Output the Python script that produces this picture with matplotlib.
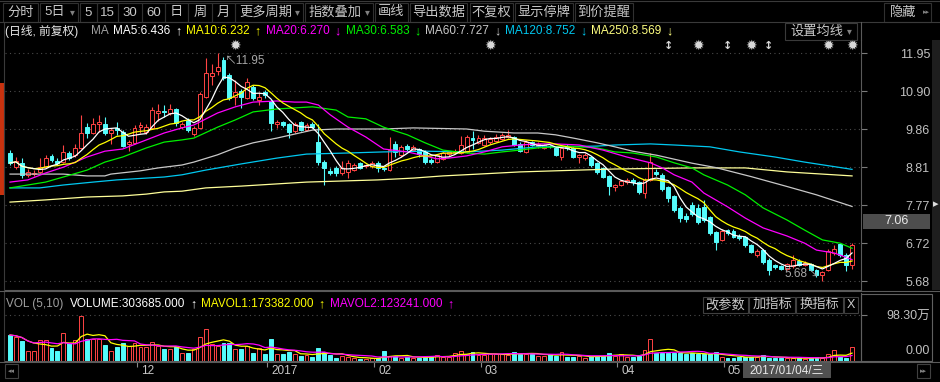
import numpy as np
import pandas as pd
import matplotlib
matplotlib.use('Agg')
import matplotlib.pyplot as plt
from matplotlib.patches import Rectangle
from matplotlib.lines import Line2D
import matplotlib.transforms as mtransforms

plt.rcParams['font.family'] = ['Liberation Sans', 'Noto Sans CJK SC', 'DejaVu Sans']

# daily candles, 2016-11 .. 2017-05
opens = [9.20, 8.81, 8.93, 8.60, 8.62, 8.68, 8.81, 9.12, 8.98, 8.95, 9.20, 9.14, 9.34, 9.91, 9.75,
         10.00, 10.00, 9.75, 9.90, 9.78, 9.45, 9.48, 9.91, 9.78, 9.89, 10.30, 10.36, 10.30, 10.41, 9.91,
         10.11, 9.72, 9.89, 10.74, 11.32, 11.45, 11.76, 11.35, 10.74, 10.90, 10.71, 11.02, 10.66, 10.88, 10.63,
         10.00, 10.05, 10.00, 9.80, 10.05, 9.83, 9.99, 9.50, 8.95, 8.71, 8.79, 8.65, 8.68, 8.73, 8.93,
         8.84, 8.84, 8.93, 8.78, 8.73, 9.45, 9.14, 9.40, 9.28, 9.32, 9.23, 9.01, 8.95, 9.04, 9.18,
         9.22, 9.20, 9.23, 9.62, 9.48, 9.42, 9.50, 9.53, 9.59, 9.64, 9.64, 9.45, 9.23, 9.50, 9.40,
         9.34, 9.40, 9.34, 9.09, 9.40, 9.34, 9.09, 9.06, 9.09, 8.93, 8.79, 8.57, 8.27, 8.32, 8.40,
         8.46, 8.40, 8.10, 8.46, 8.68, 8.60, 8.26, 8.02, 7.69, 7.47, 7.77, 7.69, 7.72, 7.44, 7.03,
         6.81, 7.08, 7.06, 6.92, 6.89, 6.67, 6.40, 6.53, 6.26, 6.12, 6.10, 6.01, 6.10, 6.23, 6.12,
         6.15, 5.98, 5.85, 5.98, 6.45, 6.70, 6.40, 6.12]
highs = [9.28, 9.10, 9.06, 8.75, 8.72, 9.06, 9.15, 9.18, 9.06, 9.42, 9.25, 9.45, 10.25, 10.02, 10.16,
         10.25, 10.18, 9.88, 10.05, 9.83, 9.55, 9.97, 10.05, 10.01, 10.47, 10.55, 10.52, 10.54, 10.45, 10.05,
         10.15, 9.95, 10.88, 11.81, 11.65, 11.95, 11.85, 11.40, 11.20, 10.95, 11.25, 11.08, 10.88, 10.93, 10.66,
         10.10, 10.08, 10.03, 10.05, 10.08, 10.02, 10.04, 10.00, 9.00, 8.78, 8.84, 8.98, 9.01, 8.92, 8.96,
         8.90, 8.98, 8.97, 8.82, 9.64, 9.52, 9.42, 9.45, 9.42, 9.35, 9.28, 9.05, 9.18, 9.25, 9.26,
         9.30, 9.67, 9.70, 9.80, 9.70, 9.70, 9.64, 9.72, 9.75, 9.83, 9.68, 9.50, 9.56, 9.53, 9.49,
         9.45, 9.43, 9.38, 9.36, 9.44, 9.37, 9.18, 9.20, 9.12, 8.96, 8.82, 8.60, 8.36, 8.46, 8.52,
         8.50, 8.44, 8.52, 9.20, 8.75, 8.65, 8.30, 8.05, 7.75, 7.55, 7.85, 7.80, 7.90, 7.48, 7.06,
         7.10, 7.12, 7.10, 6.96, 6.92, 6.70, 6.55, 6.56, 6.30, 6.15, 6.13, 6.18, 6.40, 6.28, 6.22,
         6.18, 6.00, 5.95, 6.55, 6.67, 6.72, 6.45, 6.72]
lows = [8.87, 8.76, 8.51, 8.55, 8.56, 8.64, 8.78, 8.95, 8.88, 8.92, 9.02, 9.10, 9.30, 9.62, 9.72,
        9.78, 9.70, 9.45, 9.70, 9.36, 9.25, 9.45, 9.75, 9.72, 9.85, 10.08, 10.20, 10.25, 9.95, 9.85,
        9.78, 9.68, 9.85, 10.70, 11.08, 11.35, 11.20, 10.65, 10.52, 10.45, 10.68, 10.66, 10.52, 10.70, 9.80,
        9.88, 9.92, 9.62, 9.76, 9.80, 9.80, 9.88, 8.87, 8.32, 8.60, 8.58, 8.60, 8.51, 8.70, 8.75,
        8.80, 8.80, 8.68, 8.70, 8.70, 9.10, 9.10, 9.25, 9.25, 9.10, 8.90, 8.90, 8.92, 9.00, 9.12,
        9.18, 9.18, 9.20, 9.30, 9.45, 9.38, 9.45, 9.50, 9.55, 9.60, 9.38, 9.23, 9.20, 9.38, 9.35,
        9.30, 9.33, 9.12, 9.00, 9.28, 9.05, 8.92, 9.02, 8.82, 8.62, 8.50, 8.05, 8.15, 8.28, 8.36,
        8.32, 8.08, 7.95, 8.43, 8.58, 8.15, 7.85, 7.58, 7.30, 7.30, 7.48, 7.25, 7.30, 6.95, 6.53,
        6.78, 6.95, 6.85, 6.82, 6.62, 6.45, 6.35, 6.15, 5.85, 6.02, 5.98, 5.98, 6.05, 6.08, 6.08,
        5.95, 5.78, 5.68, 5.95, 6.40, 6.35, 5.95, 6.00]
closes = [8.93, 8.98, 8.60, 8.68, 8.66, 8.81, 9.06, 9.01, 8.93, 9.23, 9.06, 9.34, 9.75, 9.75, 10.00,
          10.05, 9.75, 9.83, 9.82, 9.40, 9.50, 9.89, 9.97, 9.91, 10.38, 10.35, 10.33, 10.41, 10.03, 10.00,
          9.83, 9.89, 10.82, 11.40, 11.40, 11.56, 11.26, 10.71, 10.88, 10.74, 11.15, 10.71, 10.74, 10.80, 10.03,
          10.05, 9.97, 9.78, 10.00, 9.83, 9.97, 9.92, 8.95, 8.79, 8.65, 8.65, 8.79, 8.93, 8.87, 8.79,
          8.87, 8.93, 8.79, 8.76, 9.28, 9.23, 9.37, 9.32, 9.37, 9.18, 8.95, 8.95, 9.14, 9.20, 9.23,
          9.26, 9.42, 9.64, 9.55, 9.61, 9.61, 9.59, 9.64, 9.70, 9.70, 9.42, 9.26, 9.50, 9.42, 9.45,
          9.42, 9.38, 9.15, 9.34, 9.33, 9.09, 9.15, 9.15, 8.87, 8.68, 8.54, 8.29, 8.32, 8.43, 8.46,
          8.40, 8.13, 8.46, 8.95, 8.62, 8.21, 7.96, 7.63, 7.41, 7.38, 7.52, 7.30, 7.35, 7.00, 6.75,
          7.06, 7.00, 6.89, 6.86, 6.67, 6.48, 6.51, 6.20, 5.98, 6.06, 6.01, 6.15, 6.26, 6.12, 6.18,
          5.98, 5.85, 5.92, 6.51, 6.56, 6.40, 6.12, 6.67]
# volume in 万
volumes = [55.6, 52, 43, 21, 21, 45, 45, 27, 22, 60, 38, 45, 96, 48, 46, 46, 34, 21, 30, 38,
           32, 38, 30, 30, 41, 32, 25, 25, 30, 18, 18, 25, 52, 68, 36, 32, 38, 38, 25, 25,
           32, 18, 27, 16, 46, 15, 15, 20, 16, 11, 13, 9, 27, 20, 13, 6, 11, 9, 7, 4,
           4, 6, 6, 21, 11, 11, 7, 9, 7, 7, 9, 9, 13, 9, 9, 18, 21, 15, 20, 13,
           13, 16, 14, 14, 13, 20, 16, 16, 16, 11, 11, 14, 11, 19, 9, 9, 11, 6, 11, 11,
           11, 18, 11, 15, 9, 9, 11, 24, 47, 18, 18, 18, 18, 18, 14, 18, 14, 14, 14, 20,
           9, 7, 7, 9, 9, 9, 9, 13, 7, 6, 6, 6, 7, 7, 4, 6, 9, 7, 14, 24,
           9, 7, 30.4]

# long moving averages (candle index, price)
ma20_idx = [0, 3, 6, 9, 13, 16, 19, 23, 26, 29, 31, 35, 38, 41, 45, 48, 50, 52, 54, 57, 60, 63, 67, 70,
            72, 74, 77, 80, 83, 86, 89, 92, 96, 100, 104, 108, 110, 112, 115, 117, 121, 124, 127, 131,
            134, 136, 139, 142]
ma20_val = [8.40, 8.46, 8.65, 8.81, 9.09, 9.25, 9.31, 9.56, 9.75, 9.89, 9.97, 10.30, 10.47, 10.60, 10.63,
            10.60, 10.60, 10.52, 10.25, 9.91, 9.64, 9.31, 9.23, 9.12, 9.04, 9.06, 9.12, 9.23, 9.37, 9.42,
            9.45, 9.45, 9.42, 9.28, 9.09, 8.93, 8.79, 8.60, 8.40, 8.10, 7.72, 7.41, 7.14, 6.92, 6.72,
            6.53, 6.45, 6.27]
ma30_idx = [0, 3, 6, 9, 13, 16, 19, 23, 26, 29, 31, 35, 38, 41, 45, 48, 51, 55, 57, 60, 63, 67, 70, 73,
            77, 80, 83, 86, 89, 94, 99, 102, 105, 109, 112, 115, 117, 121, 124, 127, 131, 134, 137, 140, 142]
ma30_val = [8.24, 8.32, 8.40, 8.54, 8.73, 8.95, 9.09, 9.34, 9.50, 9.56, 9.61, 9.91, 10.11, 10.33, 10.41,
            10.44, 10.47, 10.38, 10.19, 10.14, 9.91, 9.70, 9.48, 9.28, 9.20, 9.17, 9.23, 9.28, 9.34, 9.39,
            9.34, 9.23, 9.20, 9.09, 8.93, 8.79, 8.60, 8.32, 8.05, 7.69, 7.36, 7.08, 6.81, 6.72, 6.58]
ma60_idx = [0, 9, 13, 16, 17, 22, 25, 29, 31, 35, 38, 41, 45, 48, 51, 55, 63, 68, 77, 80, 85, 89, 92, 95,
            99, 102, 105, 109, 112, 115, 119, 125, 131, 136, 142]
ma60_val = [8.62, 8.62, 8.57, 8.57, 8.62, 8.71, 8.79, 8.87, 8.95, 9.15, 9.34, 9.48, 9.61, 9.72, 9.83,
            9.86, 9.86, 9.89, 9.86, 9.80, 9.75, 9.75, 9.70, 9.61, 9.48, 9.37, 9.25, 9.14, 9.03, 8.92,
            8.80, 8.55, 8.28, 8.05, 7.73]
ma120_idx = [0, 5, 9, 14, 18, 23, 26, 29, 33, 39, 45, 50, 57, 63, 70, 77, 83, 89, 92, 99, 102, 108, 112,
             118, 123, 129, 134, 142]
ma120_val = [8.24, 8.24, 8.32, 8.40, 8.46, 8.51, 8.54, 8.60, 8.73, 8.90, 9.06, 9.17, 9.20, 9.23, 9.25,
             9.23, 9.28, 9.37, 9.37, 9.39, 9.42, 9.45, 9.42, 9.37, 9.23, 9.09, 8.95, 8.75]
ma250_idx = [0, 6, 13, 19, 23, 26, 29, 33, 39, 45, 50, 56, 62, 68, 73, 79, 86, 96, 102, 115, 124, 131, 142]
ma250_val = [7.85, 7.91, 7.99, 8.02, 8.07, 8.13, 8.15, 8.24, 8.29, 8.35, 8.40, 8.43, 8.46, 8.51, 8.57,
             8.62, 8.68, 8.73, 8.76, 8.79, 8.79, 8.68, 8.57]

price_ticks = [11.95, 10.90, 9.86, 8.81, 7.77, 6.72, 5.68]
vol_top_tick = 98.30
month_starts = [22, 44, 62, 80, 103, 121]
month_labels = ['12', '2017', '02', '03', '04', '05']
star_marks = [38, 81, 116, 125, 138, 142]
updown_marks = [111, 121, 128]

ma_legend = [('MA5:6.436', '↑', '#ffffff'), ('MA10:6.232', '↑', '#ffff00'),
             ('MA20:6.270', '↓', '#ff00ff'), ('MA30:6.583', '↓', '#00f000'),
             ('MA60:7.727', '↓', '#c8c8c8'), ('MA120:8.752', '↓', '#00c8f0'),
             ('MA250:8.569', '↓', '#ffff80')]
vol_legend = [('VOLUME:303685.000', '↑', '#ffffff'), ('MAVOL1:173382.000', '↑', '#ffff00'),
              ('MAVOL2:123241.000', '↑', '#ff00ff')]

UP = '#ff4444'
DOWN = '#54fcfc'
W, H = 940, 382
X0, DX = 10, 5.93      # pixel of first candle, pixel step
XL, XR = 5, 861

fig = plt.figure(figsize=(W / 100, H / 100), dpi=100, facecolor='black')


def rect(x0, y0, x1, y1):
    return [x0 / W, 1 - y1 / H, (x1 - x0) / W, (y1 - y0) / H]


def ftext(x, y, s, **kw):
    kw.setdefault('va', 'center')
    kw.setdefault('color', '#c8c8c8')
    kw.setdefault('fontsize', 8.5)
    return fig.text(x / W, 1 - y / H, s, **kw)


def fline(x0, y0, x1, y1, color='#3a3a3a', lw=0.8):
    fig.add_artist(Line2D([x0 / W, x1 / W], [1 - y0 / H, 1 - y1 / H], transform=fig.transFigure,
                          color=color, lw=lw))


def fbox(x0, y0, x1, y1, fc='none', ec='#3a3a3a', lw=0.8):
    fig.add_artist(Rectangle((x0 / W, 1 - y1 / H), (x1 - x0) / W, (y1 - y0) / H,
                             transform=fig.transFigure, fc=fc, ec=ec, lw=lw))


xlim = ((XL - X0) / DX, (XR - X0) / DX)
n = len(closes)
idx = np.arange(n)
o = np.array(opens)
h = np.array(highs)
l = np.array(lows)
c = np.array(closes)
up = c >= o
colors = np.where(up, UP, DOWN)

# ---- price panel
ax = fig.add_axes(rect(XL, 40, XR, 290))
ax.set_facecolor('black')
ax.set_xlim(*xlim)
ax.set_ylim(5.4325, 12.3075)

body_lo = np.minimum(o, c)
body_hi = np.maximum(o, c)
ax.vlines(idx, l, body_lo, colors=colors, lw=0.8, zorder=2)
ax.vlines(idx, body_hi, h, colors=colors, lw=0.8, zorder=2)
ax.bar(idx, np.maximum(body_hi - body_lo, 0.02), bottom=body_lo, width=0.66,
       color=np.where(up, 'black', DOWN), edgecolor=colors, linewidth=0.7, zorder=3)

closes_s = pd.Series(closes)
ma5 = closes_s.rolling(5, min_periods=1).mean()
ma10 = closes_s.rolling(10, min_periods=1).mean()
ax.plot(ma250_idx, ma250_val, color='#ffff99', lw=0.9, zorder=4)
ax.plot(ma120_idx, ma120_val, color='#00c8f0', lw=0.9, zorder=4)
ax.plot(ma60_idx, ma60_val, color='#c8c8c8', lw=0.9, zorder=4)
ax.plot(ma30_idx, ma30_val, color='#00f000', lw=0.9, zorder=4)
ax.plot(ma20_idx, ma20_val, color='#ff00ff', lw=0.9, zorder=4)
ax.plot(idx, ma10, color='#ffff00', lw=0.9, zorder=5)
ax.plot(idx, ma5, color='#ffffff', lw=0.9, zorder=5)

ax.yaxis.tick_right()
ax.set_yticks(price_ticks)
ax.set_yticklabels([f'{p:.2f}' for p in price_ticks])
ax.tick_params(axis='y', colors='#7a7a7a', labelcolor='#c0c0c0', length=4.3, width=0.8,
               pad=45.4, labelsize=9)
for lb in ax.get_yticklabels():
    lb.set_horizontalalignment('right')
ax.set_xticks([])
ax.grid(True, axis='y', color='#4a4a4a', linestyle=(0, (1, 3)), linewidth=0.8)
for s in ['top', 'left']:
    ax.spines[s].set_visible(False)
ax.spines['right'].set_color('#5a5a5a')
ax.spines['bottom'].set_color('#5a5a5a')

tr = ax.get_xaxis_transform()
for m in star_marks:
    ax.text(m, 0.976, '✹', transform=tr, ha='center', va='center', color='#d8d8d8', fontsize=10,
            family='DejaVu Sans')
for m in updown_marks:
    ax.text(m, 0.976, '↕', transform=tr, ha='center', va='center', color='#d8d8d8', fontsize=8,
            family='DejaVu Sans', fontweight='bold')

ihi = int(np.argmax(h))
ilo = int(np.argmin(l))
ax.annotate(f'↖{h[ihi]:.2f}', xy=(ihi, h[ihi]), xytext=(7, -8), textcoords='offset pixels',
            color='#a8a8a8', fontsize=8.5, ha='left', va='center')
ax.annotate(f'{l[ilo]:.2f}↘', xy=(ilo, l[ilo]), xytext=(-3, 7), textcoords='offset pixels',
            color='#a8a8a8', fontsize=8.5, ha='right', va='center')

# ---- volume panel
ax_v = fig.add_axes(rect(XL, 293, XR, 361))
ax_v.set_facecolor('black')
ax_v.set_xlim(*xlim)
ax_v.set_ylim(0, vol_top_tick * 68 / 46)
ax_v.bar(idx, volumes, width=0.66, color=np.where(up, 'black', DOWN), edgecolor=colors,
         linewidth=0.7, zorder=2)
vol_s = pd.Series(volumes)
ax_v.plot(idx, vol_s.rolling(5, min_periods=1).mean(), color='#ffff00', lw=0.9, zorder=3)
ax_v.plot(idx, vol_s.rolling(10, min_periods=1).mean(), color='#ff00ff', lw=0.9, zorder=3)
ax_v.axhline(vol_top_tick, color='#4a4a4a', linestyle=(0, (1, 3)), linewidth=0.8)
ax_v.yaxis.tick_right()
ax_v.set_yticks([vol_top_tick])
ax_v.set_yticklabels([f'{vol_top_tick:.2f}万'])
ax_v.tick_params(axis='y', colors='#7a7a7a', labelcolor='#c0c0c0', length=4.3, width=0.8,
                 pad=45.4, labelsize=9)
for lb in ax_v.get_yticklabels():
    lb.set_horizontalalignment('right')
ax_v.set_xticks([])
off = mtransforms.ScaledTranslation(0, 4 / 100, fig.dpi_scale_trans)
ax_v.text((930 - XL) / (XR - XL), 0, '0.00', transform=ax_v.get_yaxis_transform() + off,
          ha='right', va='bottom', color='#c0c0c0', fontsize=9)
for s in ['top', 'left']:
    ax_v.spines[s].set_visible(False)
ax_v.spines['right'].set_color('#5a5a5a')
ax_v.spines['bottom'].set_color('#5a5a5a')

# ---- time axis
ax_x = fig.add_axes(rect(XL, 362, XR, 382))
ax_x.set_facecolor('black')
ax_x.set_xlim(*xlim)
ax_x.set_ylim(20, 0)
ax_x.axis('off')
ms = np.array(month_starts) - 0.6
ax_x.vlines(ms, 0, 5, colors='#8a8a8a', lw=0.8)
for x, lab in zip(ms, month_labels):
    ax_x.text(x + 4 / DX, 9, lab, ha='left', va='center', color='#c8c8c8', fontsize=8.5)

# ---- chrome
fline(0, 1, W, 1)
fline(0, 22, W, 22)
fline(4, 22, 4, 362, color='#3a3a3a')
fline(XR, 22, XR, 40, color='#5a5a5a')
fline(0, 291, W, 291, color='#5a5a5a')
fline(0, 362, W, 362, color='#5a5a5a')
fig.add_artist(Rectangle((0, 1 - 195 / H), 3.5 / W, 112 / H, transform=fig.transFigure,
                         fc='#c8320f', ec='none'))
fig.add_artist(Rectangle((932 / W, 1 - 290 / H), 8 / W, 250 / H, transform=fig.transFigure,
                         fc='#1e1e1e', ec='none'))
ftext(936, 204, '▸', ha='center', color='#e0e0e0', fontsize=8, family='DejaVu Sans')

toolbar = [('分时', 3, 38), ('5日', 40, 78), ('5', 80, 97), ('15', 97, 118), ('30', 118, 142),
           ('60', 142, 165), ('日', 165, 188), ('周', 188, 212), ('月', 212, 235),
           ('更多周期', 235, 303), ('指数叠加', 305, 373), ('画线', 375, 408), ('导出数据', 410, 467),
           ('不复权', 470, 513), ('显示停牌', 515, 573), ('到价提醒', 575, 633)]
dropdowns = {'5日', '更多周期', '指数叠加'}
for lab, x0, x1 in toolbar:
    fbox(x0, 3, x1, 22, ec='#303030')
    if lab in dropdowns:
        ftext(x0 + 4, 12.5, lab, ha='left', fontsize=9.5)
        ftext(x1 - 6, 12.5, '▾', ha='center', color='#808080', fontsize=7, family='DejaVu Sans')
    else:
        ftext((x0 + x1) / 2, 12.5, lab, ha='center', fontsize=9.5)
fbox(884, 3, 931, 22, ec='#303030')
ftext(903, 12.5, '隐藏', ha='center', fontsize=9.5)
ftext(926, 12.5, '▸▸', ha='center', color='#808080', fontsize=5, family='DejaVu Sans')

ftext(5, 31, '(日线, 前复权)', ha='left', color='#e8e8e8', fontsize=8.5)
ftext(91, 31, 'MA', ha='left', color='#a0a0a0')
renderer = fig.canvas.get_renderer()
x = 113
for txt, arrow, col in ma_legend:
    t = ftext(x, 31, txt, ha='left', color=col)
    wpx = t.get_window_extent(renderer=renderer).width
    ftext(x + wpx + 8, 31, arrow, ha='center', color=col, fontsize=9)
    x += wpx + 16
fbox(785, 23, 857, 40, ec='#3a3a3a')
ftext(790, 31.5, '设置均线', ha='left', fontsize=9.5)
ftext(849, 31.5, '▾', ha='center', color='#808080', fontsize=7, family='DejaVu Sans')

ftext(6, 304, 'VOL (5,10)', ha='left', color='#a0a0a0')
x = 70
for txt, arrow, col in vol_legend:
    t = ftext(x, 304, txt, ha='left', color=col)
    wpx = t.get_window_extent(renderer=renderer).width
    ftext(x + wpx + 8, 304, arrow, ha='center', color=col, fontsize=9)
    x += wpx + 16
for lab, x0, x1 in [('改参数', 703, 748), ('加指标', 749, 795), ('换指标', 796, 843), ('X', 844, 858)]:
    fbox(x0, 297, x1, 313, fc='black', ec='#404040')
    ftext((x0 + x1) / 2, 305, lab, ha='center', fontsize=9.5 if lab != 'X' else 9)
fbox(XR, 294, 932, 361, ec='#606060')

fbox(863, 214, 930, 229, fc='#4d4d4d', ec='none')
ftext(897, 221.5, '7.06', ha='center', color='#e8e8e8', fontsize=9)
fbox(743, 363, 831, 378, fc='#505050', ec='none')
ftext(787, 370.5, '2017/01/04/三', ha='center', color='#e8e8e8', fontsize=8.5)
fbox(5, 364, 18, 378, ec='#404040')
ftext(11.5, 371, '◂◂', ha='center', color='#808080', fontsize=5, family='DejaVu Sans')
fbox(917, 364, 930, 378, ec='#404040')
ftext(923.5, 371, '▸▸', ha='center', color='#808080', fontsize=5, family='DejaVu Sans')

fig.savefig('out.png', dpi=100, facecolor='black')
